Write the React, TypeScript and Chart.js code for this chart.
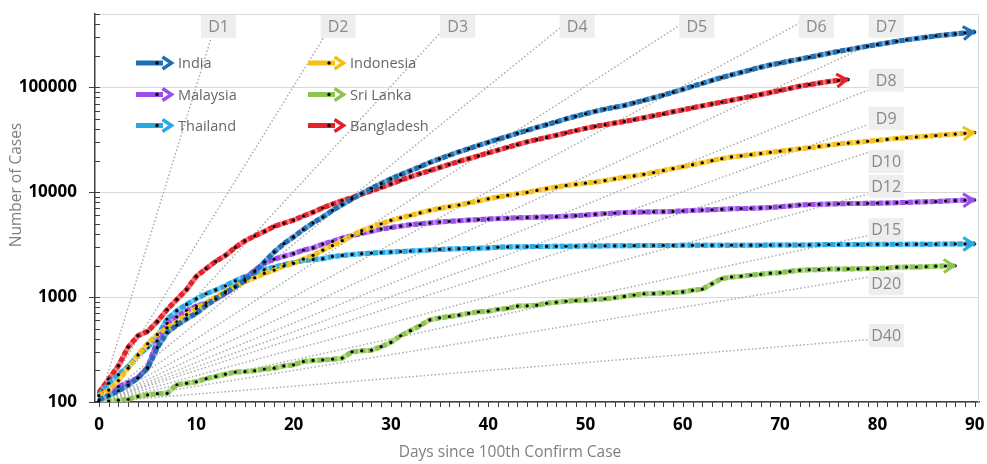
import React, { useEffect, useRef } from "react";
import { Chart, registerables } from "chart.js";

Chart.register(...registerables);

// ---------------- data ----------------
const X_TICKS = [0, 10, 20, 30, 40, 50, 60, 70, 80, 90];
const Y_TICKS = [100, 1000, 10000, 100000];
const Y_MIN = 100;
const Y_MAX = 500000;

const SERIES_NAMES = ["India", "Indonesia", "Malaysia", "Sri Lanka", "Thailand", "Bangladesh"];
const SERIES_COLORS = ["#1f6fb4", "#f3c019", "#9b4fe6", "#8cc452", "#29a9e1", "#e5222b"];

const india = [
  105, 115, 128, 145, 170, 210, 330, 460, 540, 620,
  700, 830, 960, 1100, 1250, 1450, 1750, 2160, 2690, 3230,
  3750, 4400, 5100, 5800, 6700, 7600, 8600, 9700, 10900, 12100,
  13400, 14700, 16000, 17500, 19200, 20800, 22500, 24300, 26000, 28000,
  29800, 32000, 34000, 36500, 38800, 41500, 44000, 46800, 50000, 53000,
  56000, 59000, 62000, 64500, 67100, 71000, 75100, 79500, 84100, 89800,
  95800, 102200, 109200, 116400, 124000, 131500, 139000, 147000, 155500, 163500,
  170500, 178000, 185500, 193500, 202000, 211000, 220000, 228500, 237500, 247000,
  256000, 265000, 275000, 283500, 292000, 300500, 309000, 316000, 323000, 330000,
  337000,
];
const indonesia = [
  115, 130, 160, 210, 280, 360, 440, 510, 580, 680,
  780, 880, 1000, 1130, 1270, 1400, 1530, 1680, 1810, 1980,
  2100, 2300, 2500, 2800, 3100, 3450, 3850, 4300, 4650, 5000,
  5400, 5700, 6000, 6350, 6700, 7000, 7300, 7550, 7900, 8250,
  8650, 9000, 9350, 9650, 9950, 10400, 10800, 11200, 11600, 11900,
  12200, 12500, 12900, 13400, 13900, 14300, 14800, 15400, 16100, 16800,
  17500, 18300, 19100, 20000, 20900, 21700, 22200, 22800, 23400, 24000,
  24600, 25300, 25900, 26600, 27300, 28000, 28800, 29400, 30000, 30600,
  31200, 31900, 32600, 33100, 33600, 34100, 34700, 35300, 35800, 36400,
  37000,
];
const malaysia = [
  115, 130, 140, 153, 170, 215, 380, 560, 650, 740,
  820, 880, 960, 1080, 1250, 1500, 1800, 2100, 2300, 2450,
  2600, 2800, 2950, 3200, 3400, 3650, 3850, 4050, 4250, 4450,
  4600, 4750, 4900, 5000, 5100, 5200, 5280, 5350, 5420, 5480,
  5540, 5600, 5650, 5700, 5740, 5780, 5810, 5840, 5900, 5980,
  6050, 6150, 6250, 6320, 6390, 6430, 6470, 6500, 6520, 6560,
  6620, 6700, 6750, 6800, 6870, 6940, 6980, 7020, 7080, 7160,
  7250, 7400, 7550, 7620, 7660, 7700, 7750, 7790, 7810, 7830,
  7860, 7900, 7940, 8000, 8060, 8100, 8150, 8250, 8330, 8400,
  8450,
];
const sriLanka = [
  102, 102, 104, 106, 113, 117, 120, 121, 146, 151,
  156, 167, 175, 184, 193, 195, 199, 206, 210, 221,
  226, 243, 249, 252, 256, 262, 301, 308, 312, 337,
  370, 428, 479, 535, 606, 634, 653, 673, 700, 724,
  733, 764, 781, 821, 826, 838, 874, 893, 913, 927,
  935, 948, 963, 985, 1016, 1046, 1077, 1080, 1094, 1100,
  1120, 1160, 1190, 1340, 1500, 1555, 1580, 1620, 1650, 1690,
  1710, 1760, 1800, 1820, 1825, 1850, 1852, 1855, 1860, 1870,
  1880, 1890, 1930, 1932, 1935, 1950, 1970, 1980, 1990,
];
const thailand = [
  117, 151, 182, 218, 280, 332, 423, 617, 743, 852,
  962, 1076, 1170, 1282, 1430, 1570, 1700, 1824, 1931, 2037,
  2130, 2234, 2287, 2326, 2440, 2496, 2547, 2594, 2628, 2656,
  2691, 2722, 2752, 2781, 2815, 2848, 2876, 2895, 2911, 2924,
  2940, 2994, 3010, 3019, 3026, 3035, 3043, 3049, 3055, 3058,
  3077, 3078, 3079, 3082, 3090, 3094, 3099, 3105, 3108, 3109,
  3116, 3116, 3117, 3119, 3122, 3124, 3125, 3127, 3128, 3131,
  3134, 3136, 3139, 3145, 3157, 3167, 3173, 3178, 3179, 3183,
  3184, 3185, 3186, 3186, 3194, 3195, 3197, 3205, 3213, 3215,
  3219,
];
const bangladesh = [
  123, 165, 222, 334, 428, 472, 585, 760, 950, 1180,
  1575, 1865, 2190, 2500, 2975, 3430, 3830, 4230, 4720, 5060,
  5430, 5930, 6450, 7100, 7700, 8300, 8900, 9600, 10300, 11100,
  12000, 13000, 14000, 15000, 16100, 17200, 18400, 19700, 20900, 22200,
  23700, 25200, 26800, 28500, 30200, 31700, 33300, 34900, 36800, 38700,
  40600, 42400, 44000, 45600, 47200, 49200, 51300, 53500, 55800, 58400,
  61000, 63800, 66500, 69400, 72300, 75200, 78500, 81900, 85500, 89200,
  93400, 97800, 102500, 106000, 109800, 113500, 116500, 119000,
];
const SERIES_VALUES = [india, indonesia, malaysia, sriLanka, thailand, bangladesh];

// doubling-time reference lines: cases = 100 * 2^(day / D)
const DOUBLING_DAYS = [1, 2, 3, 4, 5, 6, 7, 8, 9, 10, 12, 15, 20, 40];
const DOUBLING_BASE = 100;
const DOUBLING_END_DAY = 79;

// ---------------- styles / layout ----------------
const FONT = "'Open Sans', 'Noto Sans', 'DejaVu Sans', sans-serif";
const LABEL_NUDGE: Record<number, number> = { 7: -19.5, 8: -10, 9: -6.5, 10: 9, 12: -8, 15: -6, 20: 6.5, 40: -4 };
const LEGEND_COLS = [136, 308];
const LEGEND_ROWS = [63, 94.5, 125.5];

function lighten(hex: string, f: number) {
  const n = parseInt(hex.slice(1), 16);
  const r = (n >> 16) & 255, g = (n >> 8) & 255, b = n & 255;
  const m = (c: number) => Math.round(c + (255 - c) * f);
  return `rgb(${m(r)},${m(g)},${m(b)})`;
}

function chevron(ctx: CanvasRenderingContext2D, x0: number, y0: number, x1: number, y1: number, color: string, len = 10, half = 6.5, lw = 3) {
  const a = Math.atan2(y1 - y0, x1 - x0);
  const tx = x1 - 1.5 * Math.cos(a), ty = y1 - 1.5 * Math.sin(a);
  const bx = tx - len * Math.cos(a), by = ty - len * Math.sin(a);
  ctx.save();
  ctx.strokeStyle = color;
  ctx.lineWidth = lw;
  ctx.lineJoin = "miter";
  ctx.lineCap = "butt";
  ctx.beginPath();
  ctx.moveTo(bx + half * Math.sin(a), by - half * Math.cos(a));
  ctx.lineTo(tx, ty);
  ctx.lineTo(bx - half * Math.sin(a), by + half * Math.cos(a));
  ctx.stroke();
  ctx.restore();
}

function doublingEnd(d: number) {
  const topDay = d * Math.log2(Y_MAX / DOUBLING_BASE);
  return Math.min(DOUBLING_END_DAY, topDay);
}

const overlayPlugin = {
  id: "overlay",
  afterDatasetsDraw(chart: any) {
    const { ctx, chartArea: ca, scales } = chart;
    const xs = scales.x, ys = scales.y;
    SERIES_NAMES.forEach((_, i) => {
      const pts = chart.getDatasetMeta(i).data;
      const p1 = pts[pts.length - 1], p0 = pts[pts.length - 2];
      chevron(ctx, p0.x, p0.y, p1.x, p1.y, SERIES_COLORS[i]);
    });
    ctx.save();
    ctx.font = `16px ${FONT}`;
    ctx.textAlign = "center";
    ctx.textBaseline = "middle";
    const bw = 35, bh = 23;
    DOUBLING_DAYS.forEach((d) => {
      const endDay = doublingEnd(d);
      let left: number, cy: number;
      if (endDay < DOUBLING_END_DAY) {
        left = xs.getPixelForValue(endDay) - bw / 2;
        cy = ca.top + 1 + bh / 2;
      } else {
        left = xs.getPixelForValue(endDay) + 1;
        cy = ys.getPixelForValue(DOUBLING_BASE * Math.pow(2, endDay / d)) + (LABEL_NUDGE[d] || 0);
      }
      ctx.fillStyle = "#eeeeee";
      ctx.fillRect(left, cy - bh / 2, bw, bh);
      ctx.fillStyle = "#8a8a8a";
      ctx.fillText("D" + d, left + bw / 2, cy + 1);
    });
    ctx.restore();
  },
  afterDraw(chart: any) {
    const { ctx, chartArea: ca, scales } = chart;
    const xs = scales.x, ys = scales.y;
    ctx.save();
    ctx.strokeStyle = "#d9d9d9";
    ctx.lineWidth = 1;
    ctx.beginPath();
    ctx.moveTo(ca.left, ca.top + 0.5);
    ctx.lineTo(ca.right - 0.5, ca.top + 0.5);
    ctx.lineTo(ca.right - 0.5, ca.bottom);
    ctx.stroke();
    ctx.strokeStyle = "#404040";
    ctx.lineWidth = 1;
    ctx.beginPath();
    for (let d = 0; d <= 90; d++) {
      const px = Math.round(xs.getPixelForValue(d)) + 0.5;
      ctx.moveTo(px, ca.bottom);
      ctx.lineTo(px, ca.bottom + 5);
    }
    for (let dec = Y_MIN; dec < Y_MAX; dec *= 10) {
      for (let k = 1; k <= 9; k++) {
        const v = dec * k;
        if (v > Y_MAX) break;
        const py = Math.round(ys.getPixelForValue(v)) + 0.5;
        if (k === 1) {
          ctx.moveTo(ca.left - 6, py);
          ctx.lineTo(ca.left + 5, py);
        } else {
          ctx.moveTo(ca.left, py);
          ctx.lineTo(ca.left + 5, py);
        }
      }
    }
    ctx.stroke();
    ctx.font = `14.5px ${FONT}`;
    ctx.textAlign = "left";
    ctx.textBaseline = "middle";
    SERIES_NAMES.forEach((name, i) => {
      const x0 = LEGEND_COLS[i % 2];
      const y0 = LEGEND_ROWS[Math.floor(i / 2)];
      const c = SERIES_COLORS[i];
      ctx.strokeStyle = c;
      ctx.lineWidth = 5;
      ctx.beginPath();
      ctx.moveTo(x0, y0);
      ctx.lineTo(x0 + 27, y0);
      ctx.stroke();
      chevron(ctx, x0 + 20, y0, x0 + 37, y0, c, 9, 6, 3.5);
      ctx.fillStyle = "#000";
      ctx.beginPath();
      ctx.arc(x0 + 21, y0, 1.7, 0, Math.PI * 2);
      ctx.fill();
      ctx.fillStyle = "#666666";
      ctx.fillText(name, x0 + 42, y0 + 1);
    });
    ctx.fillStyle = "#7f7f7f";
    ctx.font = `15.5px ${FONT}`;
    ctx.textAlign = "center";
    ctx.textBaseline = "middle";
    ctx.fillText("Days since 100th Confirm Case", 510, 453);
    ctx.save();
    ctx.translate(17, 185);
    ctx.rotate(-Math.PI / 2);
    ctx.fillText("Number of Cases", 0, 0);
    ctx.restore();
    ctx.restore();
  },
};

export default function App() {
  const ref = useRef<HTMLCanvasElement | null>(null);
  useEffect(() => {
    if (!ref.current) return;
    const mainSets = SERIES_VALUES.map((vals, i) => ({
      label: SERIES_NAMES[i],
      data: vals.map((v, d) => ({ x: d, y: v })),
      borderColor: SERIES_COLORS[i],
      borderWidth: 5,
      borderDash: [5, 2.5],
      pointRadius: 1.6,
      pointBackgroundColor: "#000",
      pointBorderWidth: 0,
      pointHoverRadius: 0,
      tension: 0,
      fill: false,
    }));
    const underSets = SERIES_VALUES.map((vals, i) => ({
      label: SERIES_NAMES[i] + " base",
      data: vals.map((v, d) => ({ x: d, y: v })),
      borderColor: lighten(SERIES_COLORS[i], 0.4),
      borderWidth: 5,
      pointRadius: 0,
      tension: 0,
      fill: false,
    }));
    const doublingSets = DOUBLING_DAYS.map((d) => {
      const e = doublingEnd(d);
      return {
        label: "D" + d,
        data: [
          { x: 0, y: DOUBLING_BASE },
          { x: e, y: DOUBLING_BASE * Math.pow(2, e / d) },
        ],
        borderColor: "#ababab",
        borderWidth: 1.5,
        borderDash: [1.5, 2.2],
        pointRadius: 0,
        tension: 0,
        fill: false,
      };
    });
    const tickFont = { family: FONT, size: 17, weight: "bold" as const };
    const chart = new Chart(ref.current, {
      type: "line",
      data: { datasets: [...mainSets, ...underSets, ...doublingSets] as any },
      options: {
        responsive: false,
        animation: false,
        events: [],
        layout: { padding: { top: 14, right: 8, left: 0, bottom: 0 } },
        plugins: { legend: { display: false }, tooltip: { enabled: false } },
        scales: {
          x: {
            type: "linear",
            min: -0.41,
            max: 90.44,
            afterFit(s: any) { s.height = 62; s.paddingLeft = 0; s.paddingRight = 0; s.paddingTop = 0; s.paddingBottom = 0; },
            afterBuildTicks(s: any) { s.ticks = X_TICKS.map((v) => ({ value: v })); },
            grid: { display: false, drawTicks: false },
            border: { display: true, color: "#404040", width: 1.5 },
            ticks: { font: tickFont, color: "#000", padding: 13, maxRotation: 0, autoSkip: false },
          },
          y: {
            type: "logarithmic",
            min: Y_MIN,
            max: Y_MAX,
            afterFit(s: any) { s.width = 95; s.paddingTop = 0; s.paddingBottom = 0; s.paddingLeft = 0; s.paddingRight = 0; },
            afterBuildTicks(s: any) { s.ticks = Y_TICKS.map((v) => ({ value: v })); },
            grid: { color: "#d9d9d9", drawTicks: false, lineWidth: 1 },
            border: { display: true, color: "#404040", width: 1.5 },
            ticks: { font: tickFont, color: "#000", padding: 18, autoSkip: false, callback: (v: any) => String(v) },
          },
        },
      },
      plugins: [overlayPlugin],
    });
    return () => chart.destroy();
  }, []);
  return (
    <div style={{ position: "fixed", left: 0, top: 0, width: 987, height: 464, background: "#fff" }}>
      <canvas ref={ref} width={987} height={464} style={{ display: "block" }} />
    </div>
  );
}
